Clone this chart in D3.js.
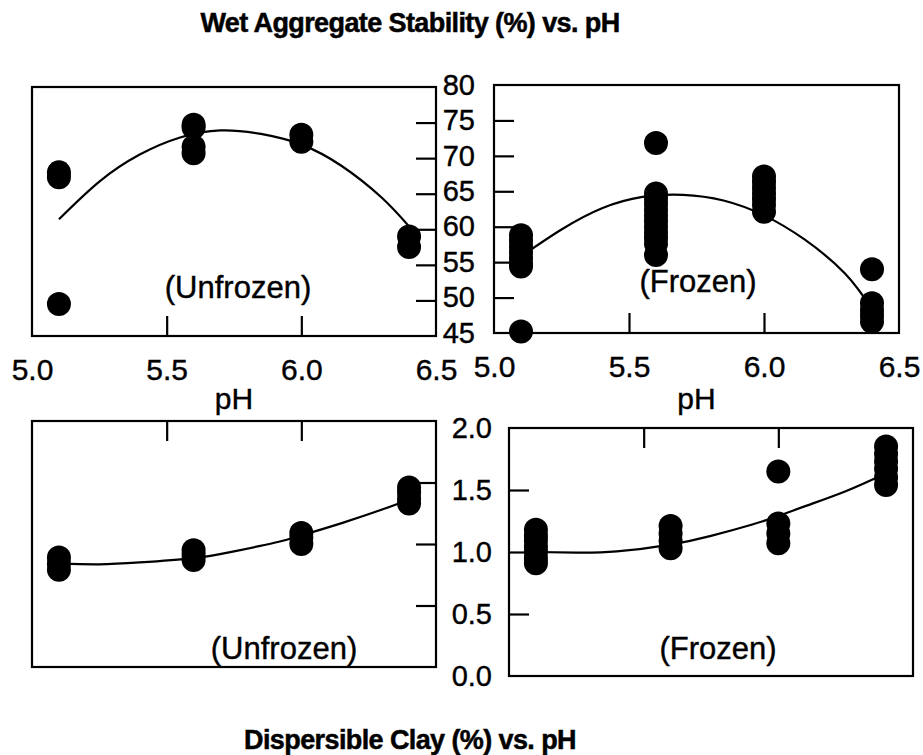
<!DOCTYPE html>
<html><head><meta charset="utf-8">
<script src="https://cdn.jsdelivr.net/npm/d3@7"></script>
<style>body{margin:0;background:#fff} svg{display:block}</style>
</head><body>
<svg id="c" width="923" height="755"></svg>
<script>
// ---------- data ----------
const titleTop = "Wet Aggregate Stability (%) vs. pH";
const titleBottom = "Dispersible Clay (%) vs. pH";
const xLabel = "pH";
const phTicks = [5.0, 5.5, 6.0, 6.5];
const phInnerTicks = [5.5, 6.0];
const wasTicks = [45, 50, 55, 60, 65, 70, 75, 80];
const wasInnerTicks = [50, 55, 60, 65, 70, 75];
const clayTicks = [0.0, 0.5, 1.0, 1.5, 2.0];
const clayInnerTicks = [0.5, 1.0, 1.5];

// Wet aggregate stability, unfrozen
const wasUnfrozenPH  = [5.1, 5.1, 5.1, 5.6, 5.6, 5.6, 5.6, 6.0, 6.0, 6.4, 6.4];
const wasUnfrozenVal = [68.0, 67.3, 49.5, 74.7, 74.3, 71.6, 70.7, 73.3, 72.3, 59.0, 57.5];
const wasUnfrozenFitPH  = [5.1, 5.25, 5.4, 5.55, 5.7, 5.85, 6.0, 6.15, 6.3, 6.4];
const wasUnfrozenFitVal = [61.4, 66.7, 70.5, 72.9, 73.9, 73.4, 71.9, 68.9, 64.4, 60.4];

// Wet aggregate stability, frozen
const wasFrozenPH  = [5.1, 5.1, 5.1, 5.1, 5.1, 5.1, 5.1, 5.1,
                      5.6, 5.6, 5.6, 5.6, 5.6, 5.6, 5.6, 5.6, 5.6, 5.6, 5.6, 5.6,
                      6.0, 6.0, 6.0, 6.0, 6.0, 6.0, 6.0,
                      6.4, 6.4, 6.4, 6.4, 6.4];
const wasFrozenVal = [58.8, 58.0, 57.2, 56.4, 55.6, 54.8, 54.4, 45.2,
                      71.8, 64.7, 64.0, 63.2, 62.4, 61.6, 60.8, 60.0, 59.2, 58.4, 57.6, 56.0,
                      67.1, 66.3, 65.5, 64.7, 63.9, 63.1, 62.1,
                      54.0, 49.2, 48.2, 47.4, 46.6];
const wasFrozenFitPH  = [5.1, 5.25, 5.4, 5.55, 5.7, 5.85, 6.0, 6.15, 6.3, 6.4];
const wasFrozenFitVal = [55.8, 59.6, 62.6, 64.2, 64.5, 63.7, 61.6, 58.2, 53.4, 48.4];

// Dispersible clay, unfrozen
const clayUnfrozenPH  = [5.1, 5.1, 5.1, 5.6, 5.6, 5.6, 6.0, 6.0, 6.0, 6.4, 6.4, 6.4, 6.4];
const clayUnfrozenVal = [0.89, 0.84, 0.79, 0.95, 0.91, 0.87, 1.09, 1.05, 1.00, 1.46, 1.42, 1.37, 1.33];
const clayUnfrozenFitPH  = [5.1, 5.25, 5.4, 5.6, 5.75, 5.9, 6.0, 6.15, 6.3, 6.4];
const clayUnfrozenFitVal = [0.84, 0.835, 0.85, 0.885, 0.94, 1.01, 1.07, 1.17, 1.28, 1.36];

// Dispersible clay, frozen
const clayFrozenPH  = [5.1, 5.1, 5.1, 5.1, 5.1, 5.1, 5.1,
                       5.6, 5.6, 5.6, 5.6,
                       6.0, 6.0, 6.0, 6.0,
                       6.4, 6.4, 6.4, 6.4, 6.4, 6.4];
const clayFrozenVal = [1.18, 1.13, 1.09, 1.04, 1.00, 0.95, 0.91,
                       1.21, 1.15, 1.09, 1.03,
                       1.65, 1.23, 1.15, 1.07,
                       1.85, 1.79, 1.73, 1.67, 1.60, 1.54];
const clayFrozenFitPH  = [5.1, 5.25, 5.4, 5.6, 5.75, 5.9, 6.0, 6.1, 6.25, 6.4];
const clayFrozenFitVal = [1.00, 0.995, 1.005, 1.06, 1.13, 1.22, 1.29, 1.37, 1.49, 1.635];

const labelUnfrozen = "(Unfrozen)";
const labelFrozen = "(Frozen)";

// ---------- drawing ----------
const FONT = "'Liberation Sans', Arial, Helvetica, sans-serif";
const svg = d3.select("#c");
const zip = (a, b) => a.map((v, i) => [v, b[i]]);

function styleText(sel, size) {
  sel.selectAll("text").attr("font-family", FONT).attr("font-size", size)
    .attr("fill", "#000").attr("stroke", "#000").attr("stroke-width", 0.4);
}

function panel(cfg) {
  const x = d3.scaleLinear().domain([5.0, 6.5]).range([cfg.x0, cfg.x1]);
  const y = d3.scaleLinear().domain(cfg.yDomain).range([cfg.y1, cfg.y0]);
  const g = svg.append("g");

  // frame
  g.append("rect").attr("x", cfg.x0).attr("y", cfg.y0)
    .attr("width", cfg.x1 - cfg.x0).attr("height", cfg.y1 - cfg.y0)
    .attr("fill", "none").attr("stroke", "#000").attr("stroke-width", 2.2);

  // inward y ticks
  const yTickAxis = cfg.ySide === "right"
    ? d3.axisLeft(y).tickValues(cfg.yInner).tickSize(20).tickFormat("")
    : d3.axisRight(y).tickValues(cfg.yInner).tickSize(20).tickFormat("");
  const yt = g.append("g")
    .attr("transform", `translate(${cfg.ySide === "right" ? cfg.x1 : cfg.x0},0)`)
    .call(yTickAxis);
  yt.select(".domain").remove();
  yt.selectAll("line").attr("stroke-width", 2.2);

  // inward x ticks
  const xTickAxis = cfg.xSide === "bottom"
    ? d3.axisTop(x).tickValues(phInnerTicks).tickSize(20).tickFormat("")
    : d3.axisBottom(x).tickValues(phInnerTicks).tickSize(20).tickFormat("");
  const xt = g.append("g")
    .attr("transform", `translate(0,${cfg.xSide === "bottom" ? cfg.y1 : cfg.y0})`)
    .call(xTickAxis);
  xt.select(".domain").remove();
  xt.selectAll("line").attr("stroke-width", 2.2);

  // x tick labels
  if (cfg.xLabels) {
    const xl = g.append("g").attr("transform", `translate(0,${cfg.y1})`)
      .call(d3.axisBottom(x).tickValues(phTicks).tickSize(0).tickPadding(23).tickFormat(d3.format(".1f")));
    xl.select(".domain").remove();
    styleText(xl, 30);
  }

  // y tick labels (placed left of this panel)
  if (cfg.yLabels) {
    const yl = g.append("g").attr("transform", `translate(${cfg.x0},0)`)
      .call(d3.axisLeft(y).tickValues(cfg.yLabels).tickSize(0).tickPadding(cfg.yPad).tickFormat(cfg.yFormat));
    yl.select(".domain").remove();
    styleText(yl, 29);
  }

  // fitted curve
  g.append("path")
    .datum(zip(cfg.fitX, cfg.fitY))
    .attr("fill", "none").attr("stroke", "#000").attr("stroke-width", 2.2)
    .attr("d", d3.line().x(d => x(d[0])).y(d => y(d[1])).curve(d3.curveNatural));

  // points
  g.selectAll("circle.pt").data(zip(cfg.px, cfg.py)).join("circle")
    .attr("class", "pt")
    .attr("cx", d => x(d[0])).attr("cy", d => y(d[1])).attr("r", 12).attr("fill", "#000");

  // condition label
  g.append("text").attr("x", cfg.labX).attr("y", cfg.labY)
    .attr("text-anchor", "middle").attr("font-family", FONT).attr("font-size", 31)
    .attr("stroke", "#000").attr("stroke-width", 0.4)
    .text(cfg.label);

  // pH axis title
  if (cfg.xLabels) {
    g.append("text").attr("x", (cfg.x0 + cfg.x1) / 2).attr("y", 409)
      .attr("text-anchor", "middle").attr("font-family", FONT).attr("font-size", 30)
      .attr("stroke", "#000").attr("stroke-width", 0.4)
      .text(xLabel);
  }
}

panel({x0: 32, x1: 436, y0: 87, y1: 336, yDomain: [45, 80], ySide: "right", xSide: "bottom",
  yInner: wasInnerTicks, xLabels: true,
  px: wasUnfrozenPH, py: wasUnfrozenVal, fitX: wasUnfrozenFitPH, fitY: wasUnfrozenFitVal,
  label: labelUnfrozen, labX: 238, labY: 298});

panel({x0: 494, x1: 899, y0: 85, y1: 333, yDomain: [45, 80], ySide: "left", xSide: "bottom",
  yInner: wasInnerTicks, xLabels: true, yLabels: wasTicks, yPad: 19, yFormat: d3.format("d"),
  px: wasFrozenPH, py: wasFrozenVal, fitX: wasFrozenFitPH, fitY: wasFrozenFitVal,
  label: labelFrozen, labX: 698, labY: 292});

panel({x0: 32, x1: 436, y0: 421, y1: 667, yDomain: [0, 2], ySide: "right", xSide: "top",
  yInner: clayInnerTicks, xLabels: false,
  px: clayUnfrozenPH, py: clayUnfrozenVal, fitX: clayUnfrozenFitPH, fitY: clayUnfrozenFitVal,
  label: labelUnfrozen, labX: 284, labY: 659});

panel({x0: 509, x1: 913, y0: 428, y1: 676, yDomain: [0, 2], ySide: "left", xSide: "top",
  yInner: clayInnerTicks, xLabels: false, yLabels: clayTicks, yPad: 17, yFormat: d3.format(".1f"),
  px: clayFrozenPH, py: clayFrozenVal, fitX: clayFrozenFitPH, fitY: clayFrozenFitVal,
  label: labelFrozen, labX: 718, labY: 659});

// titles
svg.append("text").attr("x", 410).attr("y", 32).attr("text-anchor", "middle")
  .attr("font-family", FONT).attr("font-size", 27).attr("font-weight", "bold")
  .attr("letter-spacing", -0.6).attr("stroke", "#000").attr("stroke-width", 0.5).text(titleTop);
svg.append("text").attr("x", 410).attr("y", 749).attr("text-anchor", "middle")
  .attr("font-family", FONT).attr("font-size", 27).attr("font-weight", "bold")
  .attr("letter-spacing", -0.6).attr("stroke", "#000").attr("stroke-width", 0.5).text(titleBottom);
</script>
</body></html>
